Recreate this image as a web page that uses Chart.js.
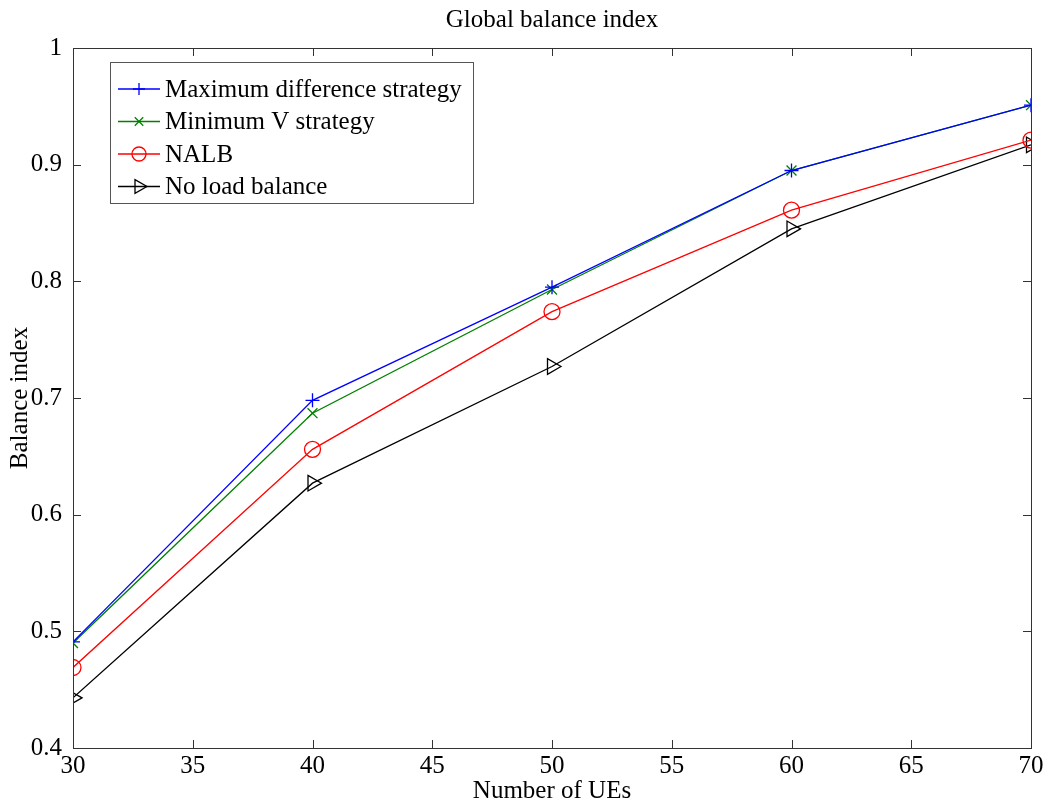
<!DOCTYPE html>
<html>
<head>
<meta charset="utf-8">
<script src="https://cdn.jsdelivr.net/npm/chart.js@4.4.0/dist/chart.umd.min.js"></script>
<style>
  body { margin: 0; background: #fff; }
  #wrap { width: 1050px; height: 807px; }
</style>
</head>
<body>
<div id="wrap"><canvas id="balance"></canvas></div>
<script>
const ues = [30, 40, 50, 60, 70];
const maxDiff = [0.491, 0.698, 0.795, 0.895, 0.951];
const minV = [0.490, 0.687, 0.793, 0.895, 0.951];
const nalb = [0.469, 0.656, 0.774, 0.861, 0.921];
const noLb = [0.443, 0.627, 0.727, 0.845, 0.917];
const seriesNames = ['Maximum difference strategy', 'Minimum V strategy', 'NALB', 'No load balance'];
const chartTitle = 'Global balance index';

const serif = "'Liberation Serif', 'Times New Roman', serif";

function toPoints(vals) {
  return ues.map((x, i) => ({ x: x, y: vals[i] }));
}

// box around plot with inward ticks on all sides (matlab look) + title centred on plot
const frame = {
  id: 'frame',
  afterDraw(chart) {
    const { ctx, chartArea: a, scales } = chart;
    ctx.save();
    ctx.strokeStyle = '#333';
    ctx.lineWidth = 1;
    ctx.strokeRect(a.left + 0.5, a.top + 0.5, a.right - a.left, a.bottom - a.top);
    const len = 8;
    ctx.beginPath();
    scales.x.ticks.forEach(t => {
      const px = Math.round(scales.x.getPixelForValue(t.value)) + 0.5;
      ctx.moveTo(px, a.bottom); ctx.lineTo(px, a.bottom - len);
      ctx.moveTo(px, a.top); ctx.lineTo(px, a.top + len);
    });
    scales.y.ticks.forEach(t => {
      const py = Math.round(scales.y.getPixelForValue(t.value)) + 0.5;
      ctx.moveTo(a.left, py); ctx.lineTo(a.left + len, py);
      ctx.moveTo(a.right, py); ctx.lineTo(a.right - len, py);
    });
    ctx.stroke();
    ctx.fillStyle = '#000';
    ctx.font = '25px ' + serif;
    ctx.textAlign = 'center';
    ctx.textBaseline = 'middle';
    ctx.fillText(chartTitle, (a.left + a.right) / 2, 20);
    ctx.restore();
  }
};

// legend box inside the plot, top left
const boxLegend = {
  id: 'boxLegend',
  afterDraw(chart) {
    const { ctx, chartArea: a } = chart;
    const x0 = a.left + 37, y0 = a.top + 14, w = 363, h = 141;
    ctx.save();
    ctx.fillStyle = '#fff';
    ctx.fillRect(x0, y0, w, h);
    ctx.strokeStyle = '#555';
    ctx.lineWidth = 1;
    ctx.strokeRect(x0 + 0.5, y0 + 0.5, w, h);
    ctx.textBaseline = 'middle';
    chart.data.datasets.forEach((ds, i) => {
      const yy = y0 + 27 + i * 32.5;
      ctx.strokeStyle = ds.borderColor;
      ctx.lineWidth = 1.3;
      ctx.beginPath();
      ctx.moveTo(x0 + 8, yy); ctx.lineTo(x0 + 50, yy);
      ctx.stroke();
      ctx.fillStyle = 'rgba(0,0,0,0)';
      Chart.helpers.drawPoint(ctx, {
        pointStyle: ds.pointStyle, radius: ds.pointRadius - 1, rotation: ds.pointRotation || 0,
        borderWidth: 1.3
      }, x0 + 29, yy);
      ctx.fillStyle = '#000';
      ctx.font = '25px ' + serif;
      ctx.fillText(ds.label, x0 + 55, yy + 1);
    });
    ctx.restore();
  }
};

const ctx = document.getElementById('balance').getContext('2d');
const balanceChart = new Chart(ctx, {
  type: 'line',
  data: {
    datasets: [
      {
        label: seriesNames[0],
        data: toPoints(maxDiff),
        borderColor: '#0000ff',
        backgroundColor: 'transparent',
        borderWidth: 1.3,
        pointStyle: 'cross',
        pointRadius: 7,
        pointBorderWidth: 1.3
      },
      {
        label: seriesNames[1],
        data: toPoints(minV),
        borderColor: '#008000',
        backgroundColor: 'transparent',
        borderWidth: 1.3,
        pointStyle: 'crossRot',
        pointRadius: 7,
        pointBorderWidth: 1.3
      },
      {
        label: seriesNames[2],
        data: toPoints(nalb),
        borderColor: '#ff0000',
        backgroundColor: 'transparent',
        borderWidth: 1.3,
        pointStyle: 'circle',
        pointRadius: 8,
        pointBorderWidth: 1.3
      },
      {
        label: seriesNames[3],
        data: toPoints(noLb),
        borderColor: '#000000',
        backgroundColor: 'transparent',
        borderWidth: 1.3,
        pointStyle: 'triangle',
        pointRotation: 90,
        pointRadius: 9,
        pointBorderWidth: 1.3
      }
    ]
  },
  options: {
    responsive: true,
    maintainAspectRatio: false,
    animation: false,
    layout: { padding: { top: 48, right: 19, left: 0, bottom: 0 } },
    elements: { line: { tension: 0 } },
    plugins: {
      legend: { display: false },
      tooltip: { enabled: false },
      title: { display: false }
    },
    scales: {
      x: {
        type: 'linear',
        min: 30,
        max: 70,
        ticks: { stepSize: 5, color: '#000', padding: -2, maxRotation: 0, font: { family: serif, size: 25, lineHeight: 1 } },
        grid: { display: false },
        border: { display: false },
        title: { display: true, text: 'Number of UEs', color: '#000', padding: { top: 0, bottom: 1 }, font: { family: serif, size: 25 } },
        afterFit(scale) { scale.height = 59; }
      },
      y: {
        min: 0.4,
        max: 1,
        ticks: {
          stepSize: 0.1, color: '#000', padding: 3, font: { family: serif, size: 25 },
          callback: v => String(Math.round(v * 10) / 10)
        },
        grid: { display: false },
        border: { display: false },
        title: { display: true, text: 'Balance index', color: '#000', padding: { top: 5, bottom: 0 }, font: { family: serif, size: 25 } },
        afterFit(scale) { scale.width = 73; }
      }
    }
  },
  plugins: [frame, boxLegend]
});
</script>
</body>
</html>
